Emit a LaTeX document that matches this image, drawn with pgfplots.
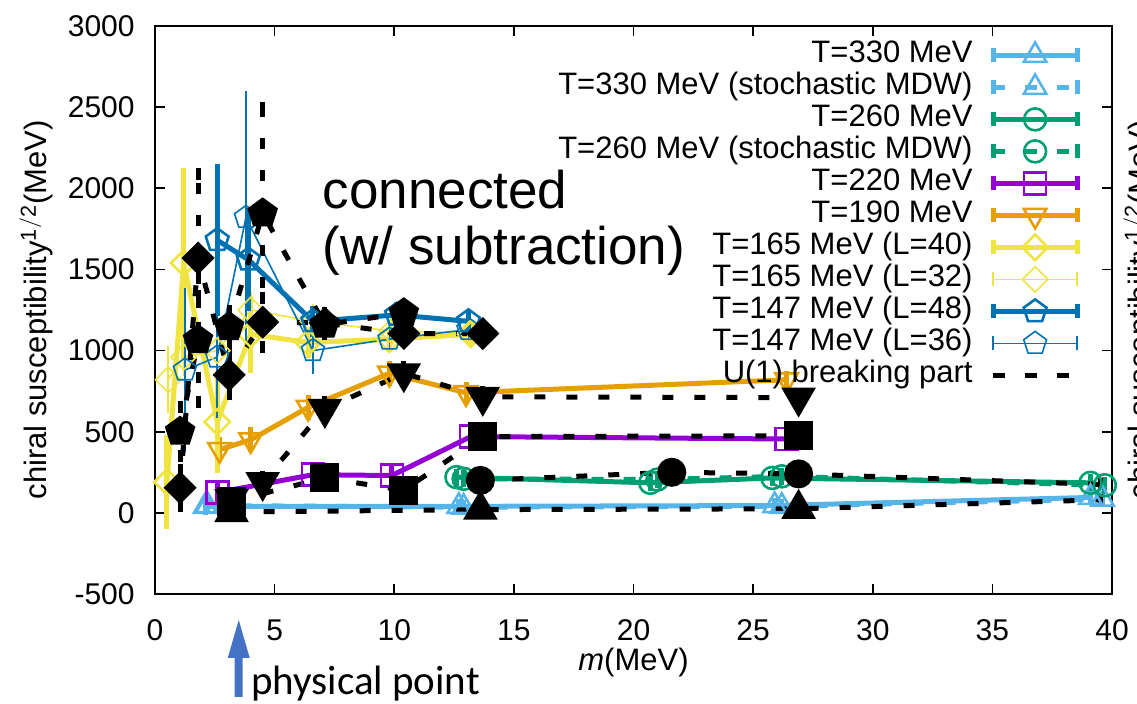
\documentclass[border=0pt]{standalone}
\usepackage{pgfplots}
\pgfplotsset{compat=1.18}
\usepackage{fontspec}
\setmainfont{Liberation Sans}
\newfontfamily\calibri{Carlito}
\definecolor{cA}{HTML}{56B4E9}
\definecolor{cB}{HTML}{009E73}
\definecolor{cC}{HTML}{9400D3}
\definecolor{cD}{HTML}{E69F00}
\definecolor{cE}{HTML}{F0E442}
\definecolor{cF}{HTML}{0072B2}
\definecolor{arrowblue}{HTML}{4472C4}
\pgfplotsset{
  legimg/.style={legend image code/.code={
     \draw[##1,mark=none] (0pt,0pt) -- (42pt,0pt);
     \draw[##1,mark=none,solid] (0pt,-3.5pt) -- (0pt,3.5pt) (42pt,-3.5pt) -- (42pt,3.5pt);
     \draw[##1] plot coordinates {(21pt,0pt)};
  }},
  u1leg/.style={legend image code/.code={
     \draw[##1,mark=none] (0pt,0pt) -- (38pt,0pt);
  }},
  thk/.style={line width=2.5pt, mark size=5.5pt,
     mark options={solid, line width=1.3pt},
     error bars/y dir=both, error bars/y explicit,
     error bars/error bar style={line width=2.5pt},
     error bars/error mark options={solid, line width=2.5pt, mark size=3pt}},
  thn/.style={line width=0.8pt, mark size=5.5pt,
     mark options={solid, line width=0.8pt},
     error bars/y dir=both, error bars/y explicit,
     error bars/error bar style={line width=0.8pt},
     error bars/error mark options={solid, line width=0.8pt, mark size=3pt}},
  dsh/.style={dash pattern=on 6pt off 10pt},
  u1/.style={black, line width=2.5pt, dash pattern=on 5.5pt off 10.5pt,
     mark size=6pt, mark options={solid, fill=black},
     error bars/y dir=both, error bars/y explicit,
     error bars/error bar style={line width=2.5pt},
     error bars/error mark options={solid, line width=2.5pt, mark size=3pt}},
  tdown/.style={every mark/.append style={rotate=180}},
  diam/.style={every mark/.append style={rotate=45}},
}
\begin{document}
\begin{tikzpicture}
\begin{axis}[
  at={(0,0)}, anchor=south west,
  scale only axis, width=478.5pt, height=284pt,
  xmin=0, xmax=40, ymin=-500, ymax=3000,
  xtick={0,5,...,40}, ytick={-500,0,...,3000},
  tick align=inside, major tick length=5pt,
  axis line style={line width=1pt},
  every tick/.style={black, line width=0.8pt},
  tick label style={font=\fontsize{15}{18}\selectfont},
  xticklabel style={anchor=base, yshift=-23.5pt},
  yticklabel style={anchor=east, inner sep=0pt, xshift=-10pt},
  /pgf/number format/assume math mode=true,
  /pgf/number format/set thousands separator={},
  clip=false,
  legend plot pos=right,
  legend cell align=right,
  legend style={at={(rel axis cs:1,1)}, anchor=north east, xshift=-16pt, yshift=-6.5pt,
     draw=none, fill=none, font=\fontsize{15.5}{16}\selectfont, inner sep=0pt,
     row sep=0pt, column sep=9pt,
     nodes={inner sep=0pt, text height=11.5pt, text depth=4.5pt}},
]
% legend images
\addlegendimage{legimg, cA, line width=2.5pt, mark=triangle, mark size=6.5pt, mark options={solid,line width=1.3pt}}
\addlegendimage{legimg, cA, line width=2.5pt, dsh, mark=triangle, mark size=6.5pt, mark options={solid,line width=1.3pt}}
\addlegendimage{legimg, cB, line width=2.5pt, mark=o, mark size=5.5pt, mark options={solid,line width=1.3pt}}
\addlegendimage{legimg, cB, line width=2.5pt, dsh, mark=o, mark size=5.5pt, mark options={solid,line width=1.3pt}}
\addlegendimage{legimg, cC, line width=2.5pt, mark=square, mark size=5.5pt, mark options={solid,line width=1.3pt}}
\addlegendimage{legimg, cD, line width=2.5pt, mark=triangle, mark size=6.5pt, mark options={solid,line width=1.3pt,rotate=180}}
\addlegendimage{legimg, cE, line width=2.5pt, mark=square, mark size=4.5pt, mark options={solid,line width=1.3pt,rotate=45}}
\addlegendimage{legimg, cE, line width=0.8pt, mark=square, mark size=4.5pt, mark options={solid,line width=0.8pt,rotate=45}}
\addlegendimage{legimg, cF, line width=2.5pt, mark=pentagon, mark size=6pt, mark options={solid,line width=1.3pt}}
\addlegendimage{legimg, cF, line width=0.8pt, mark=pentagon, mark size=6pt, mark options={solid,line width=0.8pt}}
\addlegendimage{u1leg, black, line width=2.5pt, dash pattern=on 6pt off 10pt}
\legend{T=330 MeV, T=330 MeV (stochastic MDW), T=260 MeV, T=260 MeV (stochastic MDW),
  T=220 MeV, T=190 MeV, T=165 MeV (L=40), T=165 MeV (L=32), T=147 MeV (L=48), T=147 MeV (L=36),
  U(1) breaking part}

% T=330
\addplot[forget plot, cA, thk, mark=triangle, mark size=6.5pt] coordinates {
 (2.1,40) +- (0,15) (12.7,40) +- (0,10) (25.9,45) +- (0,10) (39.1,95) +- (0,10)};
\addplot[forget plot, cA, thk, dsh, mark=triangle, mark size=6.5pt] coordinates {
 (2.2,45) +- (0,15) (12.9,35) +- (0,10) (26.2,40) +- (0,10) (39.6,85) +- (0,10)};
% T=260
\addplot[forget plot, cB, thk, mark=o] coordinates {
 (12.6,220) +- (0,15) (20.7,185) +- (0,15) (25.8,215) +- (0,15) (39.1,185) +- (0,15)};
\addplot[forget plot, cB, thk, dsh, mark=o] coordinates {
 (12.9,210) +- (0,15) (21.0,205) +- (0,15) (26.2,225) +- (0,15) (39.7,170) +- (0,15)};
% T=220
\addplot[forget plot, cC, thk, mark=square] coordinates {
 (2.6,125) +- (0,20) (6.6,235) +- (0,20) (9.9,230) +- (0,20) (13.2,470) +- (0,20) (26.4,455) +- (0,20)};
% T=190
\addplot[forget plot, cD, thk, tdown, mark=triangle, mark size=6.5pt] coordinates {
 (2.7,390) +- (0,40) (4.0,450) +- (0,40) (6.4,650) +- (0,40) (9.8,860) +- (0,40) (13.0,740) +- (0,30) (26.4,820) +- (0,20)};
% T=165 L=40
\addplot[forget plot, cE, thk, diam, mark=square, mark size=4.5pt] coordinates {
 (0.5,190) +- (0,250) (1.2,1540) +- (0,550) (2.6,560) +- (0,280) (4.0,1100) +- (0,200)
 (6.4,1050) +- (0,60) (9.8,1070) +- (0,40) (13.2,1100) +- (0,30)};
% T=165 L=32
\addplot[forget plot, cE, thn, diam, mark=square, mark size=4.5pt] coordinates {
 (0.55,820) +- (0,170) (1.2,960) +- (0,80) (2.6,1000) +- (0,100) (4.0,1250) +- (0,80)
 (6.6,1180) +- (0,70) (9.9,1120) +- (0,40) (13.2,1110) +- (0,30)};
% T=147 L=48
\addplot[forget plot, cF, thk, mark=pentagon, mark size=6pt] coordinates {
 (2.6,1680) +- (0,430) (3.9,1560) +- (0,280) (6.6,1180) +- (0,60) (10.1,1220) +- (0,40) (13.1,1180) +- (0,30)};
% T=147 L=36
\addplot[forget plot, cF, thn, mark=pentagon, mark size=6pt] coordinates {
 (1.25,880) +- (0,470) (2.6,960) +- (0,340) (3.8,1820) +- (0,740) (6.6,1000) +- (0,110)
 (9.8,1070) +- (0,40) (13.1,1130) +- (0,30)};

% U(1) breaking parts
\addplot[forget plot, u1, mark=triangle*, mark size=7.5pt, mark indices={1,2,3}] coordinates {
 (3.2,5) +- (0,10) (13.6,20) +- (0,10) (26.9,25) +- (0,10) (39.5,80) +- (0,0)};
\addplot[forget plot, u1, mark=*, mark size=6pt, mark indices={1,2,3}] coordinates {
 (13.6,200) +- (0,15) (21.6,250) +- (0,15) (26.9,240) +- (0,15) (39.5,175) +- (0,0)};
\addplot[forget plot, u1, mark=square*, mark size=6pt] coordinates {
 (3.2,70) +- (0,20) (7.1,215) +- (0,20) (10.4,140) +- (0,20) (13.7,470) +- (0,20) (26.9,475) +- (0,20)};
\addplot[forget plot, u1, tdown, mark=triangle*, mark size=7.5pt] coordinates {
 (3.2,85) +- (0,30) (4.5,190) +- (0,30) (7.1,640) +- (0,40) (10.4,860) +- (0,40) (13.7,715) +- (0,30) (26.9,710) +- (0,20)};
\addplot[forget plot, u1, diam, mark=square*, mark size=4.6pt] coordinates {
 (1.05,155) +- (0,110) (1.8,1570) +- (0,520) (3.1,850) +- (0,120) (4.5,1175) +- (0,150)
 (7.1,1170) +- (0,60) (10.4,1105) +- (0,40) (13.7,1105) +- (0,30)};
\addplot[forget plot, u1, mark=pentagon*, mark size=6.5pt] coordinates {
 (1.05,500) +- (0,150) (1.8,1065) +- (0,380) (3.1,1145) +- (0,100) (4.5,1845) +- (0,650)
 (7.1,1160) +- (0,60) (10.4,1230) +- (0,40)};

\node[anchor=base west, inner sep=0pt, font=\fontsize{26.5}{30}\selectfont] at (axis cs:7.0,1875) {connected};
\node[anchor=base west, inner sep=0pt, font=\fontsize{26.5}{30}\selectfont] at (axis cs:7.0,1530) {(w/ subtraction)};

\coordinate (BL) at (rel axis cs:0,0);
\coordinate (TR) at (rel axis cs:1,1);
\coordinate (ML) at (rel axis cs:0,0.5);
\coordinate (MR) at (rel axis cs:1,0.5);
\coordinate (MB) at (rel axis cs:0.5,0);
\coordinate (PP) at (axis cs:3.5,-500);
\end{axis}
% labels
\node[rotate=90, anchor=north, inner sep=0pt, font=\fontsize{15.5}{18}\selectfont]
  at ([xshift=-68pt]ML) {chiral susceptibility$^{\mathrm{1/2}}$(MeV)};
\node[rotate=90, anchor=north, inner sep=0pt, font=\fontsize{15.5}{18}\selectfont]
  at ([xshift=5.5pt]MR) {chiral susceptibility$^{\mathrm{1/2}}$(MeV)};
\node[anchor=center, font=\fontsize{15.5}{18}\selectfont] at ([yshift=-34pt]MB) {\textit{m}(MeV)};
% physical point arrow
\fill[arrowblue] ([xshift=-2pt,yshift=-51.5pt]PP) -- ([xshift=-2pt,yshift=-32pt]PP)
  -- ([xshift=-5.5pt,yshift=-32pt]PP) -- ([yshift=-13pt]PP) -- ([xshift=5.5pt,yshift=-32pt]PP)
  -- ([xshift=2pt,yshift=-32pt]PP) -- ([xshift=2pt,yshift=-51.5pt]PP) -- cycle;
\node[anchor=base west, inner sep=0pt, font=\calibri\fontsize{20.5}{22}\selectfont] at ([xshift=6pt,yshift=-50.5pt]PP) {physical point};
\pgfresetboundingbox
\path ([shift={(-77.5pt,-55pt)}]BL) rectangle ([shift={(12.5pt,13pt)}]TR);
\end{tikzpicture}
\end{document}
